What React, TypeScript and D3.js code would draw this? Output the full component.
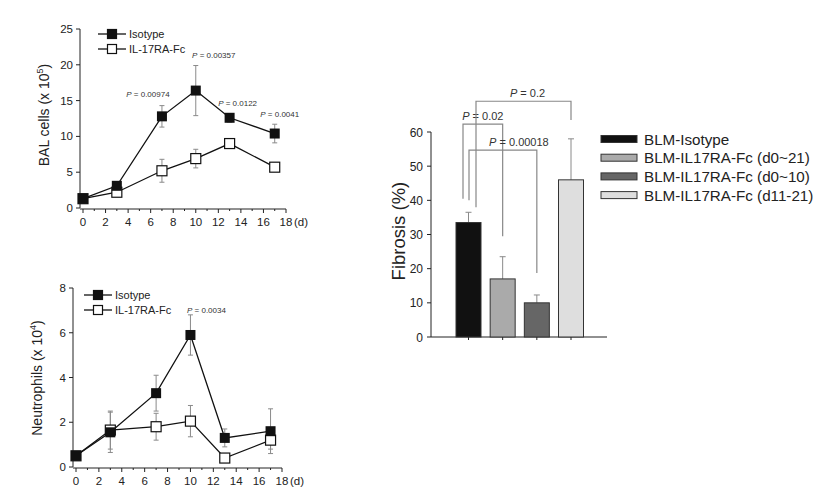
import React, { useEffect, useRef } from 'react';
import * as d3 from 'd3';

// BAL cells (x 10^5)
const days = [0, 3, 7, 10, 13, 17];
const balIsotype = [1.3, 3.1, 12.8, 16.4, 12.6, 10.4];
const balIsotypeErr = [0.3, 0.5, 1.5, 3.5, 0.6, 1.3];
const balFc = [1.3, 2.2, 5.2, 6.9, 9.0, 5.7];
const balFcErr = [0.3, 0.3, 1.6, 1.3, 0.4, 0.3];
const balP = [
  { day: 7, label: 'P = 0.00974' },
  { day: 10, label: 'P = 0.00357' },
  { day: 13, label: 'P = 0.0122' },
  { day: 17, label: 'P = 0.0041' },
];

// Neutrophils (x 10^4)
const neuIsotype = [0.5, 1.55, 3.3, 5.9, 1.3, 1.6];
const neuIsotypeErr = [0.1, 0.9, 0.8, 0.9, 0.4, 1.0];
const neuFc = [0.5, 1.65, 1.8, 2.05, 0.4, 1.2];
const neuFcErr = [0.1, 0.85, 0.6, 0.7, 0.1, 0.4];

// Fibrosis (%)
const groups = ['BLM-Isotype', 'BLM-IL17RA-Fc (d0~21)', 'BLM-IL17RA-Fc (d0~10)', 'BLM-IL17RA-Fc (d11-21)'];
const fibrosis = [33.5, 17, 10, 46];
const fibrosisErr = [3, 6.5, 2.3, 12];
const groupColors = ['#111111', '#aaaaaa', '#666666', '#dedede'];
const brackets = [
  { from: 0, to: 1, top: 62.3, leftEnd: 40.5, rightEnd: 29.5, dx: -5.5, label: 'P = 0.02' },
  { from: 0, to: 2, top: 54.7, leftEnd: 40, rightEnd: 18.7, dx: 0.5, label: 'P = 0.00018' },
  { from: 0, to: 3, top: 69, leftEnd: 38, rightEnd: 63.5, dx: 7.5, label: 'P = 0.2' },
];

const FONT = 'Arial, "Liberation Sans", sans-serif';
const ERR = '#8a8a8a';

type Panel = {
  x0: number; x1: number; y0: number; y1: number; yMax: number; yStep: number;
  iso: number[]; isoErr: number[]; fc: number[]; fcErr: number[];
  label: string; sup: string; labelY: number; legendX: number; legendY: number; mark: number;
};

const pText = (label: string) => `<tspan font-style="italic">P</tspan>${label.slice(1)}`;

function drawLinePanel(svg: d3.Selection<SVGSVGElement, unknown, null, undefined>, p: Panel) {
  const x = d3.scaleLinear().domain([0, 18]).range([p.x0, p.x1]);
  const y = d3.scaleLinear().domain([0, p.yMax]).range([p.y0, p.y1]);
  const g = svg.append('g').style('font-family', FONT);
  const axisX = x(0) - 3;

  // axes
  g.append('line').attr('x1', axisX).attr('x2', axisX).attr('y1', y(0)).attr('y2', y(p.yMax)).attr('stroke', '#222');
  g.append('line').attr('x1', axisX).attr('x2', x(18)).attr('y1', y(0) + 1).attr('y2', y(0) + 1).attr('stroke', '#222');
  const yt = d3.range(0, p.yMax + 0.001, p.yStep);
  yt.forEach(t => {
    g.append('line').attr('x1', axisX - 4).attr('x2', axisX).attr('y1', y(t)).attr('y2', y(t)).attr('stroke', '#222');
    g.append('text').attr('x', axisX - 7).attr('y', y(t) + 4).attr('text-anchor', 'end')
      .attr('font-size', 11.5).attr('fill', '#222').text(t);
  });
  d3.range(0, 19, 1).forEach(t => {
    g.append('line').attr('x1', x(t)).attr('x2', x(t)).attr('y1', y(0) + 1).attr('y2', y(0) + (t % 2 === 0 ? 5 : 3)).attr('stroke', '#222');
    if (t % 2 === 0) {
      g.append('text').attr('x', x(t)).attr('y', y(0) + 18).attr('text-anchor', 'middle')
        .attr('font-size', 11.5).attr('fill', '#222').text(t);
    }
  });
  g.append('text').attr('x', x(18) + 8).attr('y', y(0) + 18).attr('font-size', 11.5).attr('fill', '#222').text('(d)');

  // y label
  const yl = g.append('text').attr('transform', `translate(${axisX - 31},${p.labelY}) rotate(-90)`)
    .attr('text-anchor', 'middle').attr('font-size', 14).attr('fill', '#222');
  yl.append('tspan').text(p.label + ' (x 10');
  yl.append('tspan').attr('font-size', 9).attr('dy', -6).text(p.sup);
  yl.append('tspan').attr('dy', 6).text(')');

  // error bars
  const errBars = (vals: number[], errs: number[]) => {
    days.forEach((d, i) => {
      const cx = x(d);
      g.append('line').attr('x1', cx).attr('x2', cx).attr('y1', y(vals[i] - errs[i])).attr('y2', y(vals[i] + errs[i]))
        .attr('stroke', ERR).attr('stroke-width', 1);
      [vals[i] - errs[i], vals[i] + errs[i]].forEach(v => {
        g.append('line').attr('x1', cx - 2.5).attr('x2', cx + 2.5).attr('y1', y(v)).attr('y2', y(v))
          .attr('stroke', ERR).attr('stroke-width', 1);
      });
    });
  };
  errBars(p.fc, p.fcErr);
  errBars(p.iso, p.isoErr);

  const line = d3.line<number>().x((_, i) => x(days[i])).y(v => y(v));
  g.append('path').attr('d', line(p.fc)).attr('fill', 'none').attr('stroke', '#111').attr('stroke-width', 1.3);
  g.append('path').attr('d', line(p.iso)).attr('fill', 'none').attr('stroke', '#111').attr('stroke-width', 1.3);

  const m = p.mark;
  g.selectAll('rect.fc').data(p.fc).enter().append('rect')
    .attr('x', (_, i) => x(days[i]) - m / 2).attr('y', v => y(v) - m / 2)
    .attr('width', m).attr('height', m).attr('fill', '#fff').attr('stroke', '#111').attr('stroke-width', 1.2);
  g.selectAll('rect.iso').data(p.iso).enter().append('rect')
    .attr('x', (_, i) => x(days[i]) - m / 2).attr('y', v => y(v) - m / 2)
    .attr('width', m).attr('height', m).attr('fill', '#111');

  // legend
  [['Isotype', '#111'], ['IL-17RA-Fc', '#fff']].forEach(([name, fill], i) => {
    const ly = p.legendY + i * 15;
    g.append('line').attr('x1', p.legendX - 14).attr('x2', p.legendX + 14).attr('y1', ly).attr('y2', ly).attr('stroke', '#111').attr('stroke-width', 1.3);
    g.append('rect').attr('x', p.legendX - 4.5).attr('y', ly - 4.5).attr('width', 9).attr('height', 9)
      .attr('fill', fill).attr('stroke', '#111').attr('stroke-width', 1.2);
    g.append('text').attr('x', p.legendX + 17).attr('y', ly + 4).attr('font-size', 11).attr('fill', '#222').text(name);
  });
  return { g, x, y };
}

const App: React.FC = () => {
  const svgRef = useRef<SVGSVGElement>(null);

  useEffect(() => {
    if (!svgRef.current) return;
    const svg = d3.select(svgRef.current);
    svg.selectAll('*').remove();

    // top-left panel
    const top = drawLinePanel(svg, {
      x0: 83, x1: 286, y0: 208, y1: 29, yMax: 25, yStep: 5,
      iso: balIsotype, isoErr: balIsotypeErr, fc: balFc, fcErr: balFcErr,
      label: 'BAL cells', sup: '5', labelY: 115, legendX: 112, legendY: 34, mark: 10,
    });
    // label offsets relative to the point (px)
    const pDx = [-14, 18, 8, 5];
    const pDy = [-9, -8, -7, -7];
    balP.forEach((d, i) => {
      const idx = days.indexOf(d.day);
      top.g.append('text').attr('x', top.x(d.day) + pDx[i])
        .attr('y', top.y(balIsotype[idx] + balIsotypeErr[idx]) + pDy[i])
        .attr('text-anchor', 'middle').attr('font-size', 8).attr('fill', '#333')
        .html(pText(d.label));
    });

    // bottom-left panel
    const bot = drawLinePanel(svg, {
      x0: 76, x1: 282, y0: 467, y1: 288, yMax: 8, yStep: 2,
      iso: neuIsotype, isoErr: neuIsotypeErr, fc: neuFc, fcErr: neuFcErr,
      label: 'Neutrophils', sup: '4', labelY: 378, legendX: 98, legendY: 295, mark: 10,
    });
    bot.g.append('text').attr('x', bot.x(10) + 16).attr('y', 313).attr('text-anchor', 'middle')
      .attr('font-size', 8).attr('fill', '#333')
      .html(pText('P = 0.0034'));

    // right panel: fibrosis bars
    const rx = d3.scalePoint<string>().domain(groups).range([468.5, 571]);
    const ry = d3.scaleLinear().domain([0, 60]).range([337, 132]);
    const r = svg.append('g').style('font-family', FONT);
    const axX = 431;
    r.append('line').attr('x1', axX).attr('x2', axX).attr('y1', ry(0)).attr('y2', ry(60)).attr('stroke', '#222');
    r.append('line').attr('x1', axX).attr('x2', 607).attr('y1', ry(0)).attr('y2', ry(0)).attr('stroke', '#222');
    d3.range(0, 61, 10).forEach(t => {
      r.append('line').attr('x1', axX - 4).attr('x2', axX).attr('y1', ry(t)).attr('y2', ry(t)).attr('stroke', '#222');
      r.append('text').attr('x', axX - 8).attr('y', ry(t) + 4.5).attr('text-anchor', 'end')
        .attr('font-size', 12).attr('fill', '#222').text(t);
    });
    groups.forEach(gname => {
      r.append('line').attr('x1', rx(gname)!).attr('x2', rx(gname)!).attr('y1', ry(0)).attr('y2', ry(0) + 3).attr('stroke', '#222');
    });
    r.append('text').attr('transform', `translate(405,${ry(31)}) rotate(-90)`).attr('text-anchor', 'middle')
      .attr('font-size', 18.5).attr('fill', '#222').text('Fibrosis (%)');

    const bw = 25;
    groups.forEach((gname, i) => {
      const cx = rx(gname)!;
      const tp = ry(fibrosis[i] + fibrosisErr[i]);
      r.append('line').attr('x1', cx).attr('x2', cx).attr('y1', ry(fibrosis[i])).attr('y2', tp).attr('stroke', ERR);
      r.append('line').attr('x1', cx - 3).attr('x2', cx + 3).attr('y1', tp).attr('y2', tp).attr('stroke', ERR);
      r.append('rect').attr('x', cx - bw / 2).attr('y', ry(fibrosis[i])).attr('width', bw)
        .attr('height', ry(0) - ry(fibrosis[i])).attr('fill', groupColors[i]).attr('stroke', '#333').attr('stroke-width', 1);
    });

    const labelShift = [0, 16, 4];
    brackets.forEach((b, i) => {
      const lx = rx(groups[b.from])! + b.dx;
      const rxx = rx(groups[b.to])!;
      r.append('path')
        .attr('d', `M${lx},${ry(b.leftEnd)}V${ry(b.top)}H${rxx}V${ry(b.rightEnd)}`)
        .attr('fill', 'none').attr('stroke', '#888').attr('stroke-width', 1.2);
      r.append('text').attr('x', (lx + rxx) / 2 + labelShift[i]).attr('y', ry(b.top) - 4)
        .attr('text-anchor', 'middle').attr('font-size', 11).attr('fill', '#333')
        .html(pText(b.label));
    });

    // legend
    groups.forEach((gname, i) => {
      const ly = 139 + i * 18.7;
      r.append('rect').attr('x', 601).attr('y', ly - 3.5).attr('width', 36).attr('height', 7)
        .attr('fill', groupColors[i]).attr('stroke', '#333').attr('stroke-width', 1);
      r.append('text').attr('x', 644).attr('y', ly + 5.5).attr('font-size', 15.2).attr('fill', '#222').text(gname);
    });
  }, []);

  return (
    <svg ref={svgRef} width={839} height={494}
      style={{ position: 'absolute', left: 0, top: 0, background: '#fff' }} />
  );
};

export default App;
